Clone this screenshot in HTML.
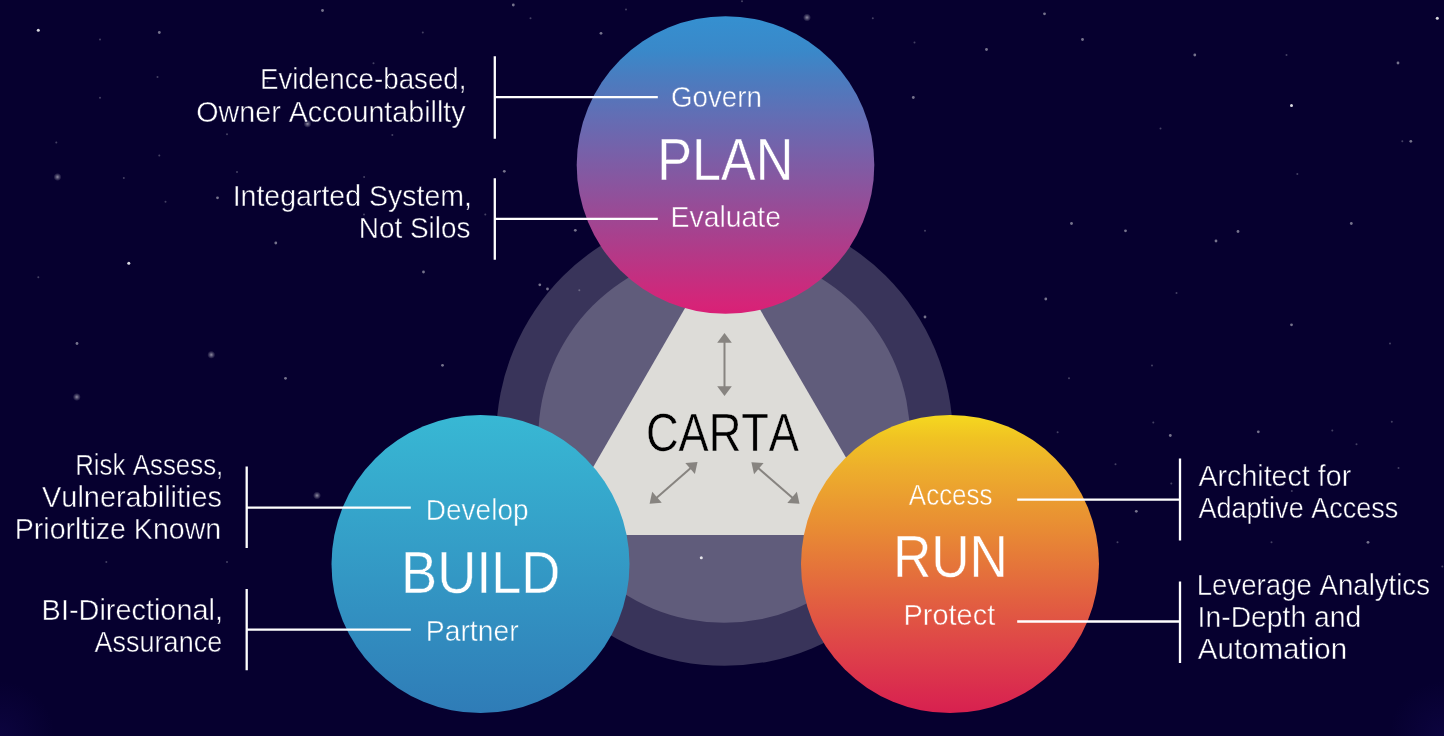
<!DOCTYPE html>
<html>
<head>
<meta charset="utf-8">
<style>
html,body{margin:0;padding:0;width:1444px;height:736px;overflow:hidden;background:#06002f;}
svg{display:block;will-change:transform;}
text{font-family:"Liberation Sans",sans-serif;font-kerning:none;}
</style>
</head>
<body>
<svg width="1444" height="736" viewBox="0 0 1444 736">
<defs>
<linearGradient id="gPlan" x1="0" y1="0" x2="0" y2="1">
<stop offset="0" stop-color="#3590d0"/>
<stop offset="0.12" stop-color="#3a88c9"/>
<stop offset="0.2" stop-color="#497dc0"/>
<stop offset="0.35" stop-color="#656cb3"/>
<stop offset="0.59" stop-color="#8e529c"/>
<stop offset="0.79" stop-color="#b23a88"/>
<stop offset="0.97" stop-color="#d62478"/>
<stop offset="1" stop-color="#d91f76"/>
</linearGradient>
<linearGradient id="gBuild" x1="0" y1="0" x2="0" y2="1">
<stop offset="0" stop-color="#38b8d4"/>
<stop offset="1" stop-color="#2f7cb7"/>
</linearGradient>
<linearGradient id="gRun" x1="0" y1="0" x2="0" y2="1">
<stop offset="0" stop-color="#f5d81f"/>
<stop offset="0.08" stop-color="#f0c223"/>
<stop offset="0.18" stop-color="#edae2c"/>
<stop offset="0.39" stop-color="#e88a34"/>
<stop offset="0.62" stop-color="#e26040"/>
<stop offset="0.79" stop-color="#de4249"/>
<stop offset="0.96" stop-color="#d9264f"/>
<stop offset="1" stop-color="#d7204f"/>
</linearGradient>
<linearGradient id="gPlanU" gradientUnits="userSpaceOnUse" x1="0" y1="16.2" x2="0" y2="313.8">
<stop offset="0" stop-color="#3590d0"/>
<stop offset="0.12" stop-color="#3a88c9"/>
<stop offset="0.2" stop-color="#497dc0"/>
<stop offset="0.35" stop-color="#656cb3"/>
<stop offset="0.59" stop-color="#8e529c"/>
<stop offset="0.79" stop-color="#b23a88"/>
<stop offset="0.97" stop-color="#d62478"/>
<stop offset="1" stop-color="#d91f76"/>
</linearGradient>
<linearGradient id="gBuildU" gradientUnits="userSpaceOnUse" x1="0" y1="415" x2="0" y2="713">
<stop offset="0" stop-color="#38b8d4"/>
<stop offset="1" stop-color="#2f7cb7"/>
</linearGradient>
<linearGradient id="gRunU" gradientUnits="userSpaceOnUse" x1="0" y1="415" x2="0" y2="713">
<stop offset="0" stop-color="#f5d81f"/>
<stop offset="0.08" stop-color="#f0c223"/>
<stop offset="0.18" stop-color="#edae2c"/>
<stop offset="0.39" stop-color="#e88a34"/>
<stop offset="0.62" stop-color="#e26040"/>
<stop offset="0.79" stop-color="#de4249"/>
<stop offset="0.96" stop-color="#d9264f"/>
<stop offset="1" stop-color="#d7204f"/>
</linearGradient>
<radialGradient id="glow">
<stop offset="0" stop-color="#fff" stop-opacity="0.55"/>
<stop offset="0.5" stop-color="#fff" stop-opacity="0.25"/>
<stop offset="1" stop-color="#fff" stop-opacity="0"/>
</radialGradient>
<radialGradient id="corner">
<stop offset="0" stop-color="#2a1890" stop-opacity="0.16"/>
<stop offset="1" stop-color="#2a1890" stop-opacity="0"/>
</radialGradient>
</defs>
<rect width="1444" height="736" fill="#06002f"/>
<circle cx="0" cy="736" r="55" fill="url(#corner)"/>
<circle cx="1444" cy="736" r="55" fill="url(#corner)"/>
<circle cx="724.5" cy="437.5" r="228.3" fill="#39345a"/>
<circle cx="724.2" cy="437" r="185.8" fill="#605c7b"/>
<circle cx="38.3" cy="30.3" r="1.5" fill="#fff" fill-opacity="0.85"/>
<circle cx="159.3" cy="32.5" r="1.4" fill="#fff" fill-opacity="0.45"/>
<circle cx="100" cy="39.5" r="1.0" fill="#fff" fill-opacity="0.25"/>
<circle cx="322.5" cy="10.5" r="1.4" fill="#fff" fill-opacity="0.45"/>
<circle cx="157.5" cy="77" r="1.0" fill="#fff" fill-opacity="0.25"/>
<circle cx="100" cy="97.8" r="1.0" fill="#fff" fill-opacity="0.25"/>
<circle cx="267.5" cy="81.8" r="1.0" fill="#fff" fill-opacity="0.25"/>
<circle cx="307.5" cy="123.8" r="4" fill="url(#glow)"/>
<circle cx="227" cy="134.3" r="1.0" fill="#fff" fill-opacity="0.25"/>
<circle cx="56.3" cy="142.5" r="1.0" fill="#fff" fill-opacity="0.25"/>
<circle cx="159.3" cy="155.5" r="1.0" fill="#fff" fill-opacity="0.25"/>
<circle cx="237" cy="172" r="1.0" fill="#fff" fill-opacity="0.25"/>
<circle cx="57.5" cy="177" r="4" fill="url(#glow)"/>
<circle cx="123.8" cy="178" r="1.0" fill="#fff" fill-opacity="0.25"/>
<circle cx="513.3" cy="5" r="1.4" fill="#fff" fill-opacity="0.45"/>
<circle cx="530.5" cy="18.3" r="1.0" fill="#fff" fill-opacity="0.25"/>
<circle cx="422.8" cy="32.5" r="1.0" fill="#fff" fill-opacity="0.25"/>
<circle cx="601" cy="33.3" r="1.4" fill="#fff" fill-opacity="0.45"/>
<circle cx="626" cy="9.5" r="1.0" fill="#fff" fill-opacity="0.25"/>
<circle cx="373.5" cy="63.3" r="1.0" fill="#fff" fill-opacity="0.25"/>
<circle cx="392.3" cy="135" r="1.0" fill="#fff" fill-opacity="0.25"/>
<circle cx="504.3" cy="171.3" r="1.4" fill="#fff" fill-opacity="0.45"/>
<circle cx="742" cy="1.3" r="1.0" fill="#fff" fill-opacity="0.25"/>
<circle cx="807" cy="17.5" r="4" fill="url(#glow)"/>
<circle cx="872.8" cy="18.3" r="1.0" fill="#fff" fill-opacity="0.25"/>
<circle cx="914.5" cy="42.5" r="1.0" fill="#fff" fill-opacity="0.25"/>
<circle cx="986.5" cy="49.5" r="1.4" fill="#fff" fill-opacity="0.45"/>
<circle cx="1044.5" cy="13.8" r="1.4" fill="#fff" fill-opacity="0.45"/>
<circle cx="913.3" cy="97.5" r="1.4" fill="#fff" fill-opacity="0.45"/>
<circle cx="1082.5" cy="39.5" r="1.4" fill="#fff" fill-opacity="0.45"/>
<circle cx="1437.3" cy="18.3" r="1.5" fill="#fff" fill-opacity="0.85"/>
<circle cx="1194.8" cy="55" r="1.4" fill="#fff" fill-opacity="0.45"/>
<circle cx="1286.5" cy="55" r="1.0" fill="#fff" fill-opacity="0.25"/>
<circle cx="1398" cy="63" r="1.4" fill="#fff" fill-opacity="0.45"/>
<circle cx="1291.5" cy="105.5" r="1.5" fill="#fff" fill-opacity="0.85"/>
<circle cx="1160.5" cy="128.5" r="1.0" fill="#fff" fill-opacity="0.25"/>
<circle cx="1402.3" cy="141.3" r="1.0" fill="#fff" fill-opacity="0.25"/>
<circle cx="1410.8" cy="141.3" r="1.4" fill="#fff" fill-opacity="0.45"/>
<circle cx="1297.3" cy="174" r="1.0" fill="#fff" fill-opacity="0.25"/>
<circle cx="165.5" cy="201.8" r="1.0" fill="#fff" fill-opacity="0.25"/>
<circle cx="217.5" cy="197.8" r="1.4" fill="#fff" fill-opacity="0.45"/>
<circle cx="128.8" cy="263.3" r="1.5" fill="#fff" fill-opacity="0.85"/>
<circle cx="38.3" cy="277.3" r="1.0" fill="#fff" fill-opacity="0.25"/>
<circle cx="275.8" cy="243" r="1.4" fill="#fff" fill-opacity="0.45"/>
<circle cx="77" cy="343.5" r="1.4" fill="#fff" fill-opacity="0.45"/>
<circle cx="211.3" cy="354.8" r="4" fill="url(#glow)"/>
<circle cx="364" cy="214.5" r="1.0" fill="#fff" fill-opacity="0.25"/>
<circle cx="364.1" cy="177.1" r="1.0" fill="#fff" fill-opacity="0.25"/>
<circle cx="485.3" cy="214.5" r="1.0" fill="#fff" fill-opacity="0.25"/>
<circle cx="575.3" cy="230.3" r="1.4" fill="#fff" fill-opacity="0.45"/>
<circle cx="423.5" cy="272" r="1.4" fill="#fff" fill-opacity="0.45"/>
<circle cx="539.8" cy="284.8" r="1.4" fill="#fff" fill-opacity="0.45"/>
<circle cx="547.5" cy="289" r="1.4" fill="#fff" fill-opacity="0.45"/>
<circle cx="579.3" cy="290.3" r="1.0" fill="#fff" fill-opacity="0.25"/>
<circle cx="442.5" cy="365.3" r="1.4" fill="#fff" fill-opacity="0.45"/>
<circle cx="925" cy="230.8" r="1.0" fill="#fff" fill-opacity="0.25"/>
<circle cx="1071.5" cy="223.5" r="1.4" fill="#fff" fill-opacity="0.45"/>
<circle cx="1045.8" cy="299" r="1.4" fill="#fff" fill-opacity="0.45"/>
<circle cx="925" cy="317" r="1.4" fill="#fff" fill-opacity="0.45"/>
<circle cx="1125.5" cy="230.8" r="1.4" fill="#fff" fill-opacity="0.45"/>
<circle cx="1216" cy="241" r="1.4" fill="#fff" fill-opacity="0.45"/>
<circle cx="1238" cy="231.5" r="1.4" fill="#fff" fill-opacity="0.45"/>
<circle cx="1351.3" cy="223.5" r="1.4" fill="#fff" fill-opacity="0.45"/>
<circle cx="1176.5" cy="293" r="1.0" fill="#fff" fill-opacity="0.25"/>
<circle cx="1291.5" cy="324.8" r="1.4" fill="#fff" fill-opacity="0.45"/>
<circle cx="1390" cy="343.5" r="1.0" fill="#fff" fill-opacity="0.25"/>
<circle cx="1152" cy="365.5" r="1.0" fill="#fff" fill-opacity="0.25"/>
<circle cx="76.8" cy="397" r="4" fill="url(#glow)"/>
<circle cx="285.5" cy="378.3" r="1.4" fill="#fff" fill-opacity="0.45"/>
<circle cx="317" cy="495.5" r="4" fill="url(#glow)"/>
<circle cx="1153.3" cy="422.5" r="1.0" fill="#fff" fill-opacity="0.25"/>
<circle cx="1170.3" cy="435.5" r="1.4" fill="#fff" fill-opacity="0.45"/>
<circle cx="1258.3" cy="431.8" r="1.4" fill="#fff" fill-opacity="0.45"/>
<circle cx="1332.3" cy="430.5" r="1.0" fill="#fff" fill-opacity="0.25"/>
<circle cx="1356.5" cy="444.3" r="1.0" fill="#fff" fill-opacity="0.25"/>
<circle cx="1391.8" cy="421.8" r="1.0" fill="#fff" fill-opacity="0.25"/>
<circle cx="1115.5" cy="464.3" r="1.0" fill="#fff" fill-opacity="0.25"/>
<circle cx="1171.3" cy="483.5" r="1.0" fill="#fff" fill-opacity="0.25"/>
<circle cx="1398.5" cy="468" r="1.0" fill="#fff" fill-opacity="0.25"/>
<circle cx="1136.3" cy="511.3" r="1.4" fill="#fff" fill-opacity="0.45"/>
<circle cx="1117.5" cy="542.3" r="1.0" fill="#fff" fill-opacity="0.25"/>
<circle cx="1271.5" cy="542.3" r="1.0" fill="#fff" fill-opacity="0.25"/>
<circle cx="1368" cy="542.3" r="1.4" fill="#fff" fill-opacity="0.45"/>
<circle cx="1291.8" cy="491" r="1.0" fill="#fff" fill-opacity="0.25"/>
<circle cx="1442.3" cy="566.5" r="1.0" fill="#fff" fill-opacity="0.25"/>
<circle cx="106.3" cy="562" r="1.0" fill="#fff" fill-opacity="0.25"/>
<circle cx="227" cy="562" r="1.0" fill="#fff" fill-opacity="0.25"/>
<circle cx="701.3" cy="557.8" r="1.5" fill="#fff" fill-opacity="0.85"/>
<circle cx="1057.6" cy="432.3" r="1.0" fill="#fff" fill-opacity="0.25"/>
<circle cx="1069" cy="378.2" r="1.0" fill="#fff" fill-opacity="0.25"/>
<polygon points="722,244 891,535 554,535" fill="#dddcd8"/>
<polygon points="724.50,332.90 717.20,342.70 731.80,342.70" fill="#878480"/>
<polygon points="724.50,396.10 717.20,386.30 731.80,386.30" fill="#878480"/>
<line x1="724.50" y1="340.74" x2="724.50" y2="388.26" stroke="#878480" stroke-width="2.0"/>
<polygon points="697.50,462.10 685.32,463.03 694.90,474.04" fill="#878480"/>
<polygon points="649.60,503.80 652.20,491.86 661.78,502.87" fill="#878480"/>
<line x1="691.59" y1="467.25" x2="655.51" y2="498.65" stroke="#878480" stroke-width="2.0"/>
<polygon points="751.40,462.20 754.04,474.13 763.59,463.09" fill="#878480"/>
<polygon points="799.50,503.80 787.31,502.91 796.86,491.87" fill="#878480"/>
<line x1="757.33" y1="467.33" x2="793.57" y2="498.67" stroke="#878480" stroke-width="2.0"/>
<circle cx="725.5" cy="165" r="148.8" fill="url(#gPlan)"/>
<circle cx="480.5" cy="564" r="149" fill="url(#gBuild)"/>
<circle cx="950" cy="564" r="149" fill="url(#gRun)"/>
<text x="645.91" y="450.70" font-size="53.0" textLength="153.08" lengthAdjust="spacingAndGlyphs" fill="#000" stroke="#dddcd8" stroke-width="0.45">CARTA</text>
<text x="657.33" y="179.50" font-size="59.2" textLength="136.12" lengthAdjust="spacingAndGlyphs" fill="#fff" stroke="url(#gPlanU)" stroke-width="0.45">PLAN</text>
<text x="401.06" y="592.70" font-size="59.2" textLength="159.33" lengthAdjust="spacingAndGlyphs" fill="#fff" stroke="url(#gBuildU)" stroke-width="0.45">BUILD</text>
<text x="892.95" y="577.40" font-size="59.2" textLength="114.98" lengthAdjust="spacingAndGlyphs" fill="#fff" stroke="url(#gRunU)" stroke-width="0.45">RUN</text>
<text x="670.90" y="107.00" font-size="28.6" textLength="91.00" lengthAdjust="spacingAndGlyphs" fill="#fff" stroke="url(#gPlanU)" stroke-width="0.45">Govern</text>
<text x="670.47" y="227.30" font-size="28.6" textLength="110.59" lengthAdjust="spacingAndGlyphs" fill="#fff" stroke="url(#gPlanU)" stroke-width="0.45">Evaluate</text>
<text x="425.80" y="520.00" font-size="28.6" textLength="102.77" lengthAdjust="spacingAndGlyphs" fill="#fff" stroke="url(#gBuildU)" stroke-width="0.45">Develop</text>
<text x="425.78" y="640.60" font-size="28.6" textLength="92.89" lengthAdjust="spacingAndGlyphs" fill="#fff" stroke="url(#gBuildU)" stroke-width="0.45">Partner</text>
<text x="908.85" y="504.70" font-size="28.6" textLength="83.69" lengthAdjust="spacingAndGlyphs" fill="#fff" stroke="url(#gRunU)" stroke-width="0.45">Access</text>
<text x="903.53" y="624.80" font-size="28.6" textLength="91.69" lengthAdjust="spacingAndGlyphs" fill="#fff" stroke="url(#gRunU)" stroke-width="0.45">Protect</text>
<text x="260.03" y="89.00" font-size="28.6" textLength="206.46" lengthAdjust="spacingAndGlyphs" fill="#fff" stroke="#06002f" stroke-width="0.45">Evidence-based,</text>
<text x="196.24" y="121.60" font-size="28.6" textLength="269.41" lengthAdjust="spacingAndGlyphs" fill="#fff" stroke="#06002f" stroke-width="0.45">Owner Accountabillty</text>
<text x="232.67" y="205.60" font-size="28.6" textLength="239.39" lengthAdjust="spacingAndGlyphs" fill="#fff" stroke="#06002f" stroke-width="0.45">Integarted System,</text>
<text x="358.71" y="237.60" font-size="28.6" textLength="111.80" lengthAdjust="spacingAndGlyphs" fill="#fff" stroke="#06002f" stroke-width="0.45">Not Silos</text>
<text x="75.18" y="474.90" font-size="28.6" textLength="148.15" lengthAdjust="spacingAndGlyphs" fill="#fff" stroke="#06002f" stroke-width="0.45">Risk Assess,</text>
<text x="42.07" y="506.90" font-size="28.6" textLength="179.97" lengthAdjust="spacingAndGlyphs" fill="#fff" stroke="#06002f" stroke-width="0.45">Vulnerabilities</text>
<text x="14.76" y="539.20" font-size="28.6" textLength="206.50" lengthAdjust="spacingAndGlyphs" fill="#fff" stroke="#06002f" stroke-width="0.45">Priorltize Known</text>
<text x="41.63" y="620.00" font-size="28.6" textLength="181.36" lengthAdjust="spacingAndGlyphs" fill="#fff" stroke="#06002f" stroke-width="0.45">BI-Directional,</text>
<text x="94.55" y="652.00" font-size="28.6" textLength="127.65" lengthAdjust="spacingAndGlyphs" fill="#fff" stroke="#06002f" stroke-width="0.45">Assurance</text>
<text x="1198.44" y="486.30" font-size="28.6" textLength="152.73" lengthAdjust="spacingAndGlyphs" fill="#fff" stroke="#06002f" stroke-width="0.45">Architect for</text>
<text x="1198.45" y="518.30" font-size="28.6" textLength="199.93" lengthAdjust="spacingAndGlyphs" fill="#fff" stroke="#06002f" stroke-width="0.45">Adaptive Access</text>
<text x="1196.74" y="594.60" font-size="28.6" textLength="233.26" lengthAdjust="spacingAndGlyphs" fill="#fff" stroke="#06002f" stroke-width="0.45">Leverage Analytics</text>
<text x="1197.59" y="627.20" font-size="28.6" textLength="163.74" lengthAdjust="spacingAndGlyphs" fill="#fff" stroke="#06002f" stroke-width="0.45">In-Depth and</text>
<text x="1197.84" y="658.50" font-size="28.6" textLength="149.27" lengthAdjust="spacingAndGlyphs" fill="#fff" stroke="#06002f" stroke-width="0.45">Automation</text>
<g stroke="#fff" stroke-width="2.3" fill="none">
<path d="M494.8 56.3V138.7M494.8 97.05H657.8"/>
<path d="M494.8 178.3V259.8M494.8 218.9H657.8"/>
<path d="M246.7 466.4V548M246.7 507.7H410.8"/>
<path d="M246.7 589V670.3M246.7 629.6H410.8"/>
<path d="M1180 458.6V540.5M1180 499.7H1017.2"/>
<path d="M1180 581.5V663M1180 621.5H1017.2"/>
</g>
</svg>
</body>
</html>
